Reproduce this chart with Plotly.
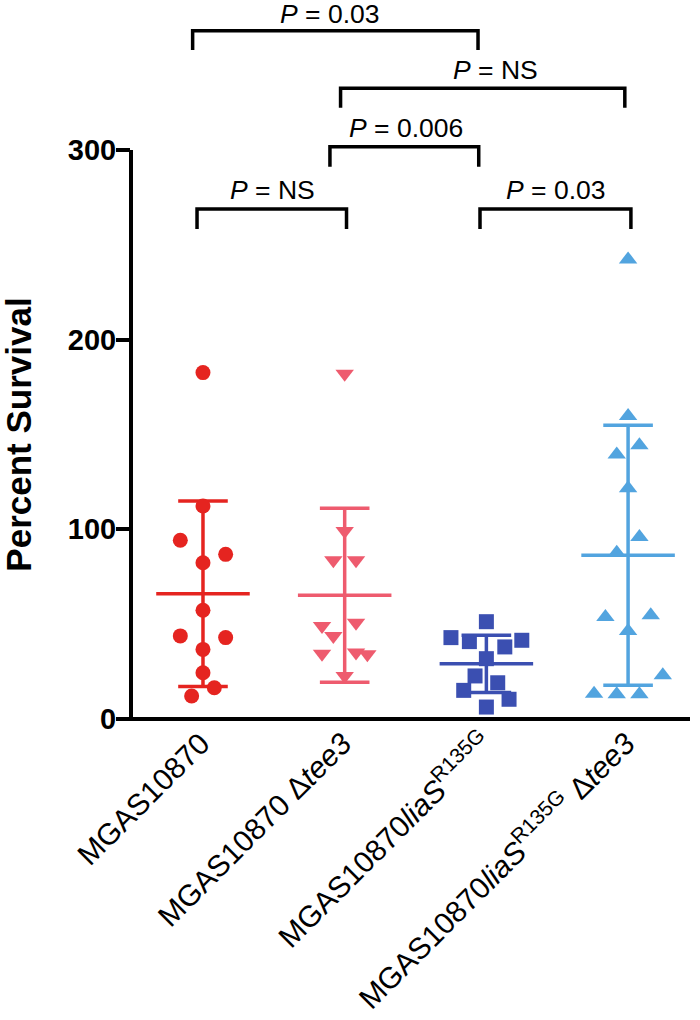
import numpy as np
import plotly.graph_objects as go

# ---------------- data ----------------
categories = [
    "MGAS10870",
    "MGAS10870 Δ<i>tee3</i>",
    "MGAS10870<i>liaS</i><sup>R135G</sup>",
    "MGAS10870<i>liaS</i><sup>R135G</sup> Δ<i>tee3</i>",
]

wt_values = [182.6, 112.3, 94.2, 86.8, 82.4, 57.3, 43.8, 42.9, 36.7, 24.4, 16.5, 12.1]
tee3_values = [182.0, 99.1, 83.7, 83.7, 50.8, 49.0, 43.8, 34.4, 35.0, 34.1, 22.7]
lias_values = [51.3, 42.9, 40.8, 41.5, 38.0, 31.8, 22.7, 19.1, 15.1, 10.4, 6.3]
lias_tee3_values = [242.3, 159.7, 144.3, 139.5, 121.6, 95.9, 87.7, 53.8, 54.7, 46.4,
                    23.0, 13.3, 13.0, 13.0]

y_tick_values = [0, 100, 200, 300]
y_title = "Percent Survival"

# pairwise comparisons: (group a, group b, label)
comparisons = [
    (0, 2, "0.03"),
    (1, 3, "NS"),
    (1, 2, "0.006"),
    (0, 1, "NS"),
    (2, 3, "0.03"),
]

# ---------------- styling / layout (not data) ----------------
jitter = [
    [0, 0, -0.16, 0.16, 0, 0, -0.16, 0.16, 0, 0, 0.08, -0.08],
    [0, 0, -0.08, 0.08, 0.08, -0.16, -0.08, -0.16, 0.08, 0.16, 0],
    [0, -0.25, -0.12, 0.25, 0.13, 0, -0.08, 0.08, -0.16, 0.16, 0],
    [0, 0, 0.08, -0.08, 0, 0.08, -0.08, -0.16, 0.16, 0, 0.245, -0.24, -0.08, 0.08],
]
colors = ["#E52420", "#EE5B6E", "#3B4FB1", "#52A4DF"]
symbols = ["circle", "triangle-down", "square", "triangle-up"]
msizes = [15, 16, 15, 16]

# bracket geometry (x ends, top y, leg bottom y) and label placement
brackets = [
    (-0.073, 1.941, 362.8, 352.7),
    (0.971, 2.977, 332.5, 322.2),
    (0.896, 1.946, 301.7, 291.1),
    (-0.042, 1.013, 268.8, 258.3),
    (1.955, 3.02, 268.8, 258.3),
]
label_pos = [
    (0.896, 371.5),
    (2.061, 342.1),
    (1.433, 311.5),
    (0.494, 278.9),
    (2.491, 278.9),
]

FONT = "Liberation Sans, Arial, sans-serif"

groups = [wt_values, tee3_values, lias_values, lias_tee3_values]

fig = go.Figure()

for gi, vals in enumerate(groups):
    vals = np.array(vals, dtype=float)
    m = vals.mean()
    sd = vals.std(ddof=1)
    # mean line, SD bar and caps
    xs = [gi - 0.33, gi + 0.33, None,
          gi, gi, None,
          gi - 0.175, gi + 0.175, None,
          gi - 0.175, gi + 0.175]
    ys = [m, m, None,
          m - sd, m + sd, None,
          m + sd, m + sd, None,
          m - sd, m - sd]
    fig.add_trace(go.Scatter(
        x=xs, y=ys, mode="lines",
        line=dict(color=colors[gi], width=3.5),
        hoverinfo="skip", showlegend=False,
    ))
    fig.add_trace(go.Scatter(
        x=[gi + j for j in jitter[gi]], y=vals, mode="markers",
        marker=dict(color=colors[gi], symbol=symbols[gi], size=msizes[gi],
                    line=dict(width=0)),
        showlegend=False, cliponaxis=False,
    ))

shapes = []
# y axis line (0..300)
shapes.append(dict(type="line", xref="paper", yref="y", x0=0, x1=0,
                   y0=0, y1=300, line=dict(color="black", width=4)))
# x axis line
shapes.append(dict(type="line", xref="paper", yref="paper", x0=-0.0036, x1=1,
                   y0=0, y1=0, line=dict(color="black", width=4)))
for (x0, x1, yt, yl) in brackets:
    shapes.append(dict(
        type="path", xref="x", yref="y",
        path=f"M {x0},{yl} L {x0},{yt} L {x1},{yt} L {x1},{yl}",
        line=dict(color="black", width=3.5),
    ))

annotations = []
for (a, b, lab), (lx, ly) in zip(comparisons, label_pos):
    annotations.append(dict(
        x=lx, y=ly, xref="x", yref="y", text=f"<i>P</i> = {lab}",
        showarrow=False, xanchor="center", yanchor="middle",
        font=dict(family=FONT, size=26.5, color="black"),
    ))
annotations.append(dict(
    x=-0.2018, y=150, xref="paper", yref="y", text=y_title, textangle=-90,
    showarrow=False, xanchor="center", yanchor="middle", borderpad=0,
    font=dict(family=FONT, size=35, color="black", weight="bold"),
))

fig.update_layout(
    width=700, height=1020,
    margin=dict(l=131, r=10, t=5, b=301),
    paper_bgcolor="white", plot_bgcolor="white",
    shapes=shapes, annotations=annotations,
    xaxis=dict(
        range=[-0.508, 3.437], tickvals=[0, 1, 2, 3], ticktext=categories,
        tickangle=-45, showgrid=False, zeroline=False, showline=False,
        ticks="", automargin=False, ticklabelshift=-2,
        tickfont=dict(family=FONT, size=30, color="black"),
    ),
    yaxis=dict(
        range=[0, 376.4], tickvals=y_tick_values, showgrid=False, zeroline=False,
        showline=False, ticks="outside", ticklen=14, tickwidth=4, tickcolor="black",
        automargin=False, ticklabelstandoff=-6,
        tickfont=dict(family=FONT, size=29, color="black", weight="bold"),
    ),
)

fig.write_html(
    "out.html",
    config={"displayModeBar": False},
    post_script="document.body.style.margin='0px';"
                "document.documentElement.style.overflow='hidden';",
)
